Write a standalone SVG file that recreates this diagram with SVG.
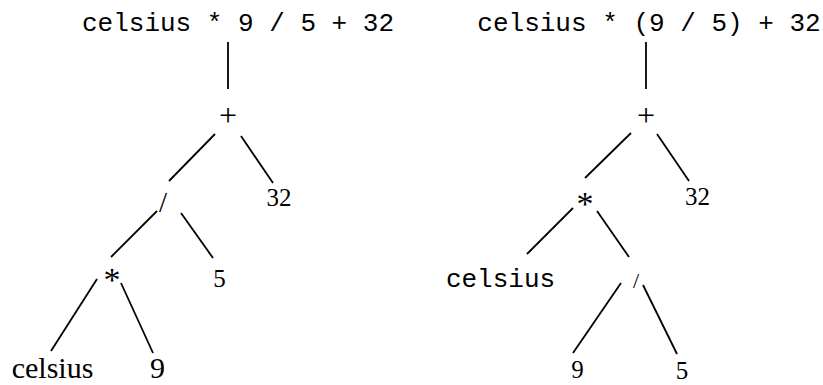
<svg xmlns="http://www.w3.org/2000/svg" width="823" height="385" viewBox="0 0 823 385">
<style>
.mono{font-family:"Liberation Mono","Courier New",monospace;font-size:26px;fill:#000}
.serif{font-family:"Liberation Serif","Times New Roman",serif;fill:#000;text-anchor:middle}
.edges line{stroke:#000;stroke-width:1.8;stroke-linecap:butt}
</style>
<rect width="823" height="385" fill="#fff"/>
<g id="connectors" class="edges">
<line x1="228" y1="42" x2="228" y2="89"/>
<line x1="215" y1="134" x2="169" y2="181"/>
<line x1="241" y1="136" x2="273" y2="183"/>
<line x1="157" y1="211" x2="111" y2="257"/>
<line x1="181" y1="213" x2="213" y2="258"/>
<line x1="97" y1="279" x2="51" y2="351"/>
<line x1="121" y1="283" x2="153" y2="353"/>
<line x1="646" y1="42" x2="646" y2="89"/>
<line x1="631" y1="133" x2="585" y2="178"/>
<line x1="657" y1="134" x2="689" y2="181"/>
<line x1="573" y1="208" x2="527" y2="254"/>
<line x1="597" y1="211" x2="629" y2="257"/>
<line x1="621" y1="283" x2="573" y2="353"/>
<line x1="643" y1="285" x2="677" y2="354"/>
</g>
<g id="expr-left"><text class="mono" x="238" y="31" text-anchor="middle">celsius * 9 / 5 + 32</text></g>
<g id="plus-left"><text class="serif" x="228" y="126" font-size="32">+</text></g>
<g id="n32-left"><text class="serif" x="279" y="206" font-size="25">32</text></g>
<g id="div-left"><text class="serif" x="163" y="212" font-size="29">/</text></g>
<g id="mul-left"><text class="serif" x="112" y="291" font-size="34">*</text></g>
<g id="n5-left"><text class="serif" x="219.5" y="287" font-size="25">5</text></g>
<g id="celsius-left"><text class="serif" x="52.5" y="378" font-size="30">celsius</text></g>
<g id="n9-left"><text class="serif" x="157.5" y="378" font-size="30">9</text></g>
<g id="expr-right"><text class="mono" x="649" y="31" text-anchor="middle">celsius * (9 / 5) + 32</text></g>
<g id="plus-right"><text class="serif" x="646" y="126" font-size="32">+</text></g>
<g id="n32-right"><text class="serif" x="697.5" y="205" font-size="25">32</text></g>
<g id="mul-right"><text class="serif" x="585" y="215" font-size="34">*</text></g>
<g id="celsius-right"><text class="mono" x="500.5" y="287" text-anchor="middle">celsius</text></g>
<g id="div-right"><text class="serif" x="636" y="288" font-size="22">/</text></g>
<g id="n9-right"><text class="serif" x="577.5" y="378" font-size="25">9</text></g>
<g id="n5-right"><text class="serif" x="682" y="379" font-size="25">5</text></g>
</svg>
